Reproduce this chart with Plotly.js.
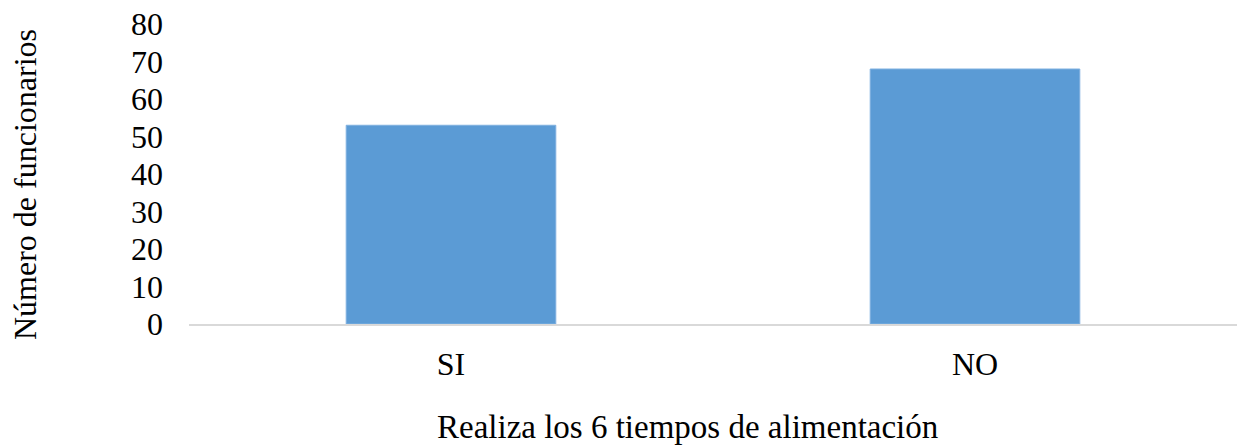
<!DOCTYPE html>
<html>
<head>
<meta charset="utf-8">
<script src="https://cdn.plot.ly/plotly-3.0.1.min.js"></script>
<style>html,body{margin:0;padding:0;background:#fff;}#chart{width:1238px;height:446px;}</style>
</head>
<body>
<div id="chart"></div>
<script>
const categories = ["SI", "NO"];
const values = [53, 68];
const yTickValues = [0, 10, 20, 30, 40, 50, 60, 70, 80];
const xTitle = "Realiza los 6 tiempos de alimentación";
const yTitle = "Número de funcionarios";

const font = "Liberation Serif";

const trace = {
  type: "bar",
  x: categories,
  y: values,
  marker: { color: "#5b9bd5", line: { color: "#7fb0e0", width: 1 } },
  hoverinfo: "x+y"
};

const layout = {
  width: 1238,
  height: 446,
  margin: { l: 189, r: 1, t: 24, b: 122 },
  paper_bgcolor: "#ffffff",
  plot_bgcolor: "#ffffff",
  bargap: 0.6,
  showlegend: false,
  font: { family: font, size: 32, color: "#000000" },
  xaxis: {
    type: "category",
    showgrid: false,
    zeroline: false,
    showline: true,
    linecolor: "#d9d9d9",
    linewidth: 2,
    ticks: "",
    ticklabelstandoff: 11,
    tickfont: { family: font, size: 32, color: "#000" }
  },
  yaxis: {
    range: [0, 80],
    tickvals: yTickValues,
    ticktext: yTickValues.map(String),
    showgrid: false,
    zeroline: false,
    showline: false,
    ticks: "",
    ticklabelstandoff: 25,
    tickfont: { family: font, size: 32, color: "#000" }
  },
  annotations: [
    {
      text: xTitle, xref: "paper", yref: "paper",
      x: (687 - 189) / 1048, y: (324 - 427) / 300,
      xanchor: "center", yanchor: "middle", showarrow: false,
      font: { family: font, size: 33, color: "#000" }
    },
    {
      text: yTitle, xref: "paper", yref: "paper",
      x: (25 - 189) / 1048, y: (324 - 185) / 300,
      xanchor: "center", yanchor: "middle", textangle: -90, showarrow: false,
      font: { family: font, size: 32, color: "#000" }
    }
  ]
};

Plotly.newPlot("chart", [trace], layout, { displayModeBar: false, staticPlot: true });
</script>
</body>
</html>
